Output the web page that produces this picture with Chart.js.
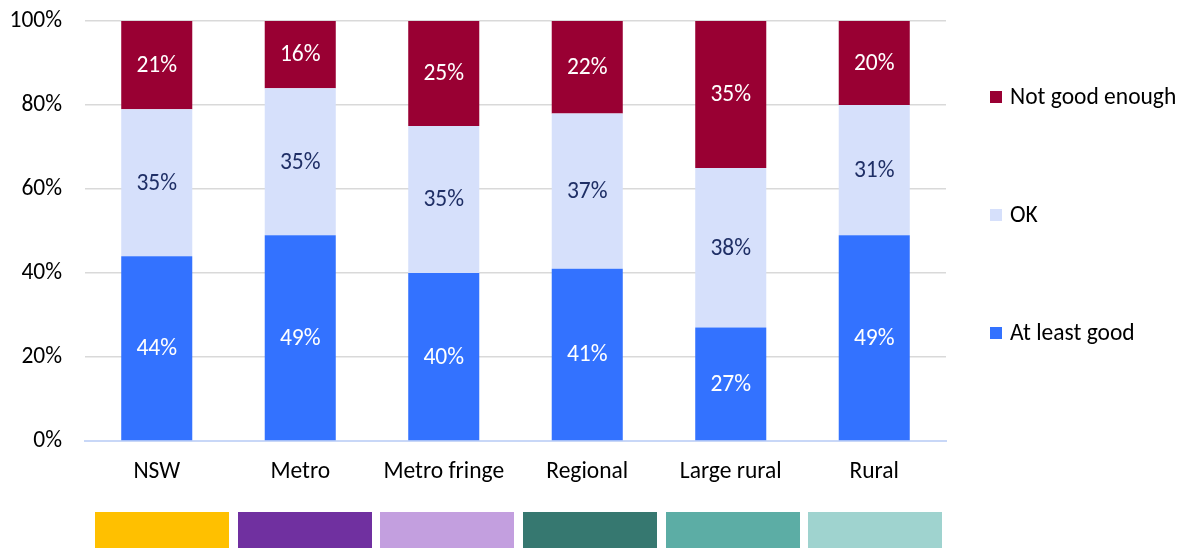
<!DOCTYPE html>
<html>
<head>
<meta charset="utf-8">
<script src="https://cdn.jsdelivr.net/npm/chart.js@4/dist/chart.umd.min.js"></script>
<style>
  html, body { margin: 0; padding: 0; background: #fff; }
  #wrap { position: relative; width: 1187px; height: 548px; }
</style>
</head>
<body>
<div id="wrap"><canvas id="c" width="1187" height="548"></canvas></div>
<script>
// Survey rating shares by area (percent of respondents)
const categories = ['NSW', 'Metro', 'Metro fringe', 'Regional', 'Large rural', 'Rural'];
const atLeastGood = [44, 49, 40, 41, 27, 49];
const okShare = [35, 35, 35, 37, 38, 31];
const notGoodEnough = [21, 16, 25, 22, 35, 20];
const yTicks = [0, 20, 40, 60, 80, 100];

// Area colour key shown beneath the categories
const areaKeyColors = ['#ffc000', '#7030a0', '#c39fdf', '#367870', '#5cada5', '#9fd3cf'];

const FONT = "Carlito, Lato, 'Open Sans', sans-serif";
const FS = 23.5;

// Centred value labels inside each stacked segment
const segmentLabels = {
  id: 'segmentLabels',
  afterDatasetsDraw(chart) {
    const ctx = chart.ctx;
    ctx.save();
    ctx.font = FS + 'px ' + FONT;
    ctx.textAlign = 'center';
    ctx.textBaseline = 'middle';
    chart.data.datasets.forEach((ds, di) => {
      const meta = chart.getDatasetMeta(di);
      meta.data.forEach((bar, i) => {
        const p = bar.getProps(['x', 'y', 'base'], true);
        ctx.fillStyle = ds.labelColor;
        ctx.fillText(ds.data[i] + '%', p.x, (p.y + p.base) / 2 + 1);
      });
    });
    ctx.restore();
  }
};

// Legend on the right, top entry = top segment
const sideLegend = {
  id: 'sideLegend',
  afterDraw(chart) {
    const ctx = chart.ctx;
    const area = chart.chartArea;
    const items = chart.data.datasets.slice().reverse();
    ctx.save();
    ctx.font = FS + 'px ' + FONT;
    ctx.textBaseline = 'middle';
    ctx.textAlign = 'left';
    items.forEach((ds, k) => {
      const cy = area.top + 76 + k * 118;
      const x0 = area.right + 44;
      ctx.fillStyle = ds.backgroundColor;
      ctx.fillRect(x0, cy - 6, 12, 12);
      ctx.fillStyle = '#000';
      ctx.fillText(ds.label, x0 + 20, cy + 1);
    });
    ctx.restore();
  }
};

// Colour key strip for the areas, below the axis labels
const areaKey = {
  id: 'areaKey',
  afterDraw(chart) {
    const ctx = chart.ctx;
    const area = chart.chartArea;
    const left = area.left + 10, right = area.right - 4, gap = 9;
    const n = areaKeyColors.length;
    const w = (right - left - gap * (n - 1)) / n;
    ctx.save();
    areaKeyColors.forEach((col, i) => {
      ctx.fillStyle = col;
      ctx.fillRect(Math.round(left + i * (w + gap)), 512, Math.round(w), 40);
    });
    ctx.restore();
  }
};

new Chart(document.getElementById('c'), {
  type: 'bar',
  data: {
    labels: categories,
    datasets: [
      { label: 'At least good', data: atLeastGood, backgroundColor: '#3372ff', labelColor: '#ffffff' },
      { label: 'OK', data: okShare, backgroundColor: '#d6e0fb', labelColor: '#1f2f66' },
      { label: 'Not good enough', data: notGoodEnough, backgroundColor: '#990033', labelColor: '#ffffff' }
    ]
  },
  options: {
    responsive: false,
    animation: false,
    events: [],
    layout: { padding: { top: 21, right: 241, bottom: 0, left: 0 } },
    datasets: { bar: { categoryPercentage: 1, barPercentage: 0.495, borderWidth: 0 } },
    plugins: { legend: { display: false }, tooltip: { enabled: false } },
    scales: {
      x: {
        stacked: true,
        grid: { display: false, drawTicks: false },
        border: { display: true, color: '#c8d7f7', width: 2 },
        ticks: { color: '#000', font: { family: FONT, size: FS }, padding: 17, maxRotation: 0 },
        afterFit(s) { s.height = 107; s.paddingLeft = 0; s.paddingRight = 0; }
      },
      y: {
        stacked: true,
        min: 0,
        max: 100,
        afterBuildTicks(s) { s.ticks = yTicks.map(v => ({ value: v })); },
        grid: { color: '#d9d9d9', lineWidth: 1.5, drawTicks: false },
        border: { display: false },
        ticks: {
          color: '#000',
          font: { family: FONT, size: FS },
          padding: 23,
          callback: v => v + '%'
        },
        afterFit(s) { s.width = 85; s.paddingTop = 0; s.paddingBottom = 0; }
      }
    }
  },
  plugins: [segmentLabels, sideLegend, areaKey]
});
</script>
</body>
</html>
